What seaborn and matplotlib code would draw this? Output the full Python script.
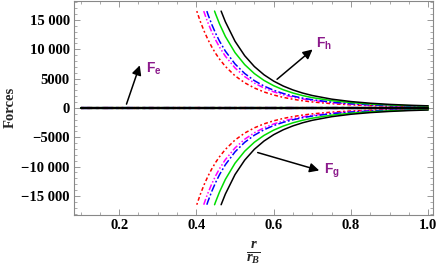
import numpy as np
import pandas as pd
import matplotlib
matplotlib.use("Agg")
import matplotlib.pyplot as plt
import seaborn as sns

sns.set_style("ticks")
plt.rcParams["font.family"] = ["Liberation Serif", "DejaVu Serif"]
plt.rcParams["font.weight"] = "bold"
plt.rcParams["mathtext.fontset"] = "custom"
plt.rcParams["mathtext.it"] = "Liberation Serif:italic:bold"
plt.rcParams["mathtext.rm"] = "Liberation Serif:bold"
plt.rcParams["mathtext.sf"] = "Liberation Sans:bold"

# values (F_h branch, F_g is its mirror)
x_black = [0.464, 0.475, 0.5, 0.525, 0.55, 0.575, 0.6, 0.625, 0.65, 0.675, 0.7, 0.75, 0.8, 0.85, 0.9, 0.95, 1.0]
f_black = [16500, 14681, 11360, 8901, 7054, 5648, 4565, 3722, 3060, 2533, 2112, 1496, 1083, 800, 601, 459, 355]

x_green = [0.447, 0.45, 0.46, 0.475, 0.5, 0.525, 0.55, 0.575, 0.6, 0.625, 0.65, 0.675, 0.7, 0.75, 0.8, 0.85, 0.9, 0.95, 1.0]
f_green = [16500, 15960, 14299, 12179, 9424, 7384, 5852, 4685, 3787, 3088, 2538, 2102, 1752, 1241, 899, 664, 499, 381, 295]

x_blue = [0.427, 0.43, 0.44, 0.45, 0.46, 0.475, 0.5, 0.525, 0.55, 0.575, 0.6, 0.625, 0.65, 0.675, 0.7, 0.75, 0.8, 0.85, 0.9, 0.95, 1.0]
f_blue = [16500, 15917, 14189, 12681, 11361, 9677, 7488, 5867, 4650, 3723, 3009, 2454, 2017, 1670, 1392, 986, 714, 527, 396, 302, 234]

x_magenta = [0.419, 0.425, 0.43, 0.44, 0.45, 0.46, 0.475, 0.5, 0.525, 0.55, 0.575, 0.6, 0.625, 0.65, 0.675, 0.7, 0.75, 0.8, 0.85, 0.9, 0.95, 1.0]
f_magenta = [16500, 15361, 14489, 12915, 11543, 10342, 8809, 6816, 5341, 4232, 3389, 2739, 2234, 1836, 1520, 1267, 898, 650, 480, 361, 275, 213]

x_red = [0.401, 0.41, 0.42, 0.43, 0.44, 0.45, 0.46, 0.475, 0.5, 0.525, 0.55, 0.575, 0.6, 0.625, 0.65, 0.675, 0.7, 0.75, 0.8, 0.85, 0.9, 0.95, 1.0]
f_red = [16500, 14759, 13084, 11632, 10369, 9267, 8303, 7072, 5472, 4287, 3398, 2721, 2199, 1793, 1474, 1220, 1017, 721, 522, 385, 290, 221, 171]

# F_e stays at zero over the whole range
x_fe = [0.1, 1.0]
f_fe = [0, 0]

ytick_vals = [-15000, -10000, -5000, 0, 5000, 10000, 15000]
ytick_text = ["\u221215 000", "\u221210 000", "\u22125000", "0", "5000", "10 000", "15 000"]
xtick_vals = [0.2, 0.4, 0.6, 0.8, 1.0]
xtick_text = ["0.2", "0.4", "0.6", "0.8", "1.0"]

curves = [
    (x_red, f_red, "#ff0000", (0, (1.2, 1.6, 2.5, 1.6))),
    (x_magenta, f_magenta, "#ff00ff", (0, (4, 1.4, 1, 1.4, 1, 1.4))),
    (x_blue, f_blue, "#0000ff", (0, (5, 1.5, 1.2, 1.5))),
    (x_green, f_green, "#00dd00", "-"),
    (x_black, f_black, "#000000", "-"),
]

fig = plt.figure(figsize=(4.36, 2.73), dpi=100)
ax = fig.add_axes([0.1697, 0.2136, 0.8234, 0.7844])

for xs, fs, col, ls in curves:
    sns.lineplot(x=xs, y=fs, ax=ax, color=col, linestyle=ls, lw=1.1)
    sns.lineplot(x=xs, y=[-v for v in fs], ax=ax, color=col, linestyle=ls, lw=1.1)
for xs, fs, col, ls in curves:
    sns.lineplot(x=x_fe, y=f_fe, ax=ax, color=col, linestyle=ls, lw=1.6)

ax.set_xlim(0.0831, 1.0125)
ax.set_ylim(-18200, 18300)

ax.set_xticks(xtick_vals)
ax.set_xticklabels(xtick_text)
ax.set_xticks(np.arange(0.1, 1.01, 0.05), minor=True)
ax.set_yticks(ytick_vals)
ax.set_yticklabels(ytick_text)
ax.set_yticks(np.arange(-18000, 18001, 1000), minor=True)

ax.tick_params(which="both", direction="in", top=True, right=True, colors="#888888",
               labelcolor="black", labelsize=10.5)
ax.tick_params(which="major", length=4, width=0.6, pad=3)
ax.tick_params(which="minor", length=2, width=0.5)
for lbl in ax.get_xticklabels() + ax.get_yticklabels():
    lbl.set_fontweight("bold")
for sp in ax.spines.values():
    sp.set_color("#888888")
    sp.set_linewidth(0.8)

ax.set_xlabel("")
ax.set_ylabel("Forces", fontsize=10.5, fontweight="bold", labelpad=3)
fig.text(253 / 436, 1 - 253 / 273, r"$\frac{r}{r_B}$", fontsize=15,
         ha="center", va="center")

purple = "#8b1a8b"
arrow = dict(arrowstyle="-|>", color="black", lw=1.1, mutation_scale=14, shrinkA=0, shrinkB=0)
ax.annotate("", xy=(0.2534, 7254), xytext=(0.219, 644), arrowprops=arrow)
ax.text(0.269, 6750, r"$\mathsf{F_e}$", color=purple, fontsize=10, ha="left", va="center")
ax.annotate("", xy=(0.7007, 9966), xytext=(0.6088, 4881), arrowprops=arrow)
ax.text(0.710, 10983, r"$\mathsf{F_h}$", color=purple, fontsize=10, ha="left", va="center")
ax.annotate("", xy=(0.718, -10661), xytext=(0.5587, -7610), arrowprops=arrow)
ax.text(0.731, -10712, r"$\mathsf{F_g}$", color=purple, fontsize=10, ha="left", va="center")

fig.savefig("out.png", dpi=100)
